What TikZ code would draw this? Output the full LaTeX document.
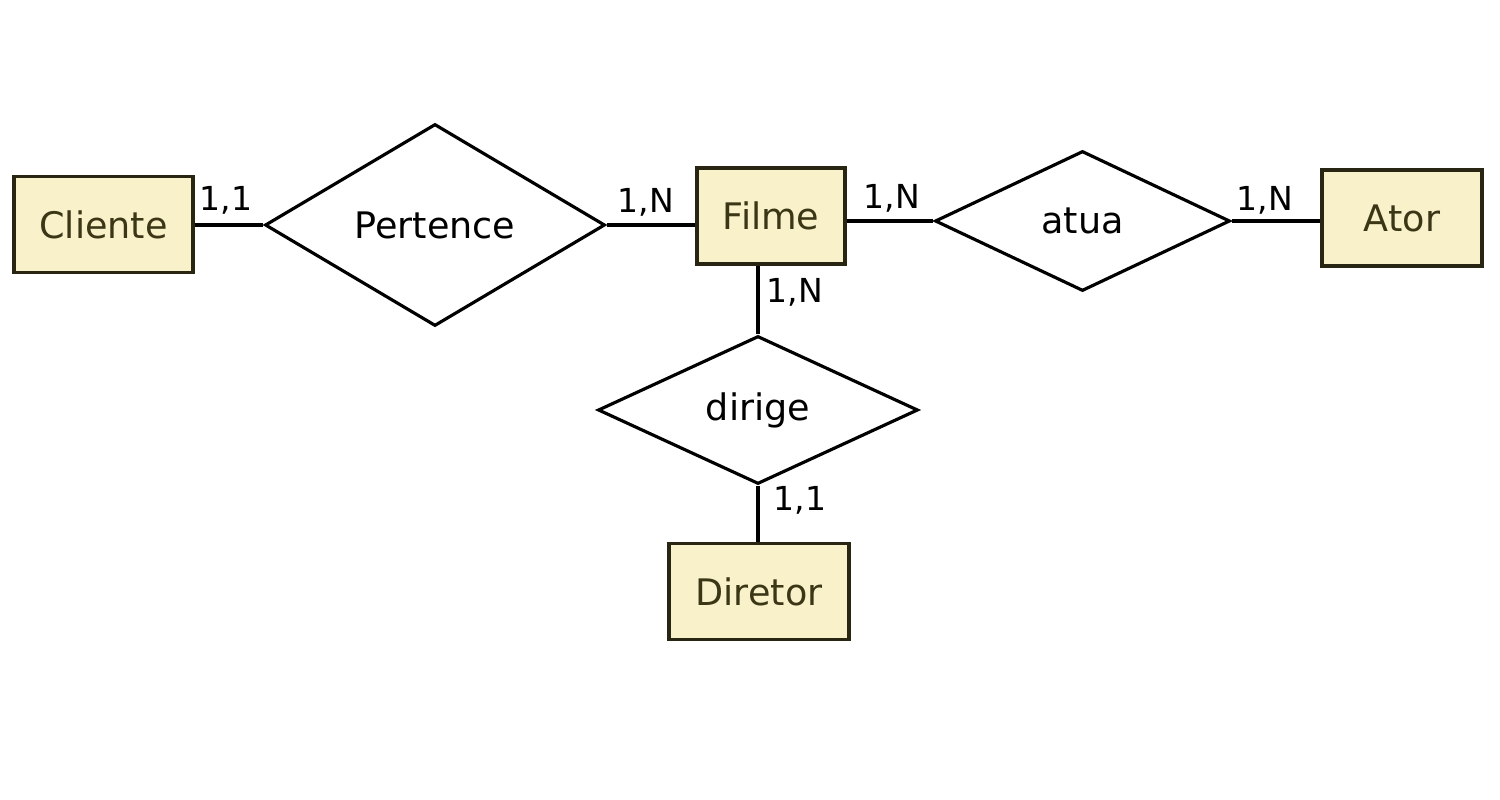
\documentclass[tikz,border=0pt]{standalone}
\usepackage{fontspec}
\setmainfont{DejaVu Sans}
\usepackage{tikz}
\usetikzlibrary{shapes.geometric,positioning,calc}
\definecolor{entfill}{RGB}{248,241,201}
\definecolor{enttext}{RGB}{58,54,22}
\definecolor{entdraw}{RGB}{40,38,18}

\begin{document}
\begin{tikzpicture}[
  ent/.style={rectangle,draw=entdraw,line width=0.9pt,fill=entfill,
              text=enttext,minimum height=0.96cm,inner sep=0pt,
              font=\fontsize{10.4}{12}\selectfont},
  rel/.style={diamond,draw=black,line width=0.9pt,fill=white,inner sep=0pt,
              font=\fontsize{10.4}{12}\selectfont},
  lnk/.style={line width=0.9pt},
  card/.style={font=\fontsize{9.4}{11}\selectfont,inner sep=1pt}]
\useasboundingbox (0,0) rectangle (15,-8);
%%
%% Entities
\node[ent,minimum width=1.79cm](cli) at ( 1.035,-2.245) {Cliente};
\node[ent,minimum width=1.48cm](fil) at ( 7.71, -2.16 ) {Filme};
\node[ent,minimum width=1.60cm](ato) at (14.02, -2.18 ) {Ator};
\node[ent,minimum width=1.80cm](dtr) at ( 7.59, -5.915) {Diretor};
%%
%% Relationships
\node[rel,minimum width=3.40cm,minimum height=2.02cm](per) at ( 4.35, -2.25) {Pertence};
\node[rel,minimum width=2.95cm,minimum height=1.40cm](atu) at (10.825,-2.21) {atua};
\node[rel,minimum width=3.20cm,minimum height=1.48cm](dir) at ( 7.58, -4.10) {dirige};
%%
%% Links
\draw[lnk](cli.east |- per.west) -- (per.west);
\draw[lnk](per.east) -- (per.east -| fil.west);
\draw[lnk](atu.west -| fil.east) -- (atu.west);
\draw[lnk](atu.east) -- (atu.east -| ato.west);
\draw[lnk](dir.north |- fil.south) -- (dir.north);
\draw[lnk](dir.south) -- (dir.south |- dtr.north);
%%
%% Cardinalities
\node[card](c1) at ( 2.26,-2.00) {1,1};
\node[card](c2) at ( 6.46,-2.02) {1,N};
\node[card](c3) at ( 8.92,-1.98) {1,N};
\node[card](c4) at (12.65,-2.00) {1,N};
\node[card](c5) at ( 7.95,-2.92) {1,N};
\node[card](c6) at ( 8.00,-5.00) {1,1};
\end{tikzpicture}
\end{document}
